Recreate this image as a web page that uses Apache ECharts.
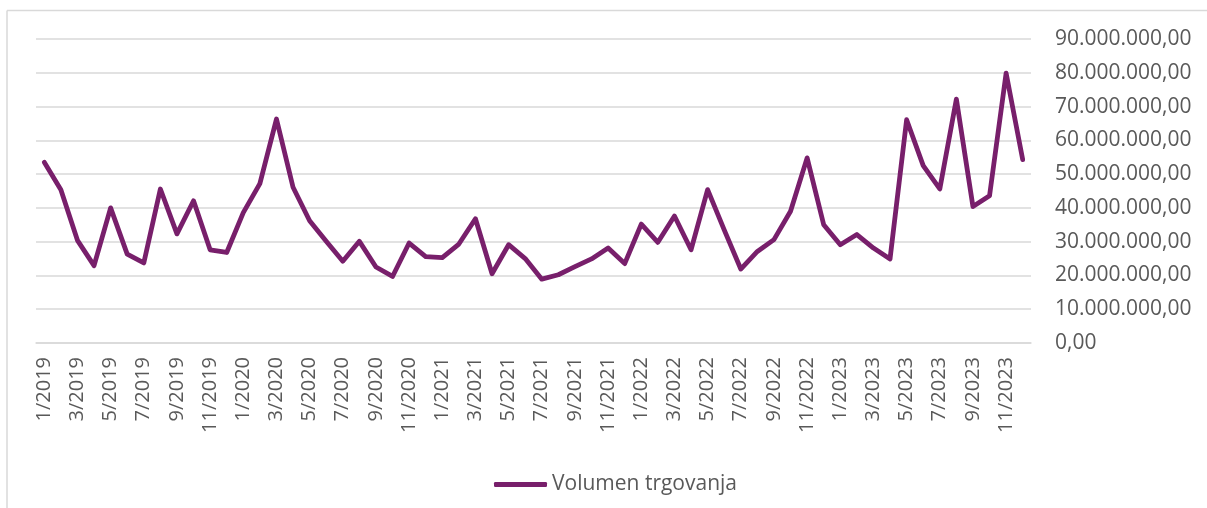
<!DOCTYPE html>
<html>
<head>
<meta charset="utf-8">
<script src="https://cdn.jsdelivr.net/npm/echarts@6/dist/echarts.min.js"></script>
<style>
  html, body { margin: 0; padding: 0; background: #fff; }
  #chart { width: 1207px; height: 508px; }
</style>
</head>
<body>
<div id="chart"></div>
<script>
// monthly categories 1/2019 .. 12/2023
const years = [2019, 2020, 2021, 2022, 2023]
const months = [1, 2, 3, 4, 5, 6, 7, 8, 9, 10, 11, 12]
const categories = []
years.forEach(y => months.forEach(m => categories.push(m + '/' + y)))

// volume values
const volumen = [
  53500000, 45400000, 30400000, 22900000, 40000000, 26300000, 23700000, 45600000, 32300000, 42100000, 27600000, 26800000,
  38600000, 47200000, 66300000, 46100000, 36200000, 30100000, 24200000, 30100000, 22500000, 19700000, 29600000, 25600000,
  25300000, 29300000, 36800000, 20500000, 29100000, 25000000, 18900000, 20200000, 22600000, 24900000, 28100000, 23500000,
  35200000, 29800000, 37600000, 27600000, 45400000, 33500000, 21900000, 27100000, 30600000, 39000000, 54800000, 35000000,
  29100000, 32100000, 28100000, 24900000, 66100000, 52500000, 45600000, 72200000, 40400000, 43600000, 79900000, 54300000
]

const yMin = 0
const yMax = 90000000
const yStep = 10000000

const lineColor = '#781F6B'
const gridColor = '#D9D9D9'
const textColor = '#595959'

function fmt(v) {
  const parts = Math.round(v).toString().replace(/\B(?=(\d{3})+(?!\d))/g, '.')
  return parts + ',00'
}

const chart = echarts.init(document.getElementById('chart'))

chart.setOption({
  animation: false,
  textStyle: { fontFamily: 'Open Sans' },
  graphic: [
    { type: 'line', shape: { x1: 7, y1: 10.5, x2: 1207, y2: 10.5 }, style: { stroke: gridColor, lineWidth: 1.5 } },
    { type: 'line', shape: { x1: 7, y1: 10.5, x2: 7, y2: 508 }, style: { stroke: gridColor, lineWidth: 1.5 } }
  ],
  grid: {
    left: 36,
    right: 176,
    top: 39,
    bottom: 165
  },
  legend: {
    data: ['Volumen trgovanja'],
    left: 489,
    top: 469,
    icon: 'roundRect',
    itemWidth: 53,
    itemHeight: 5,
    itemGap: 6,
    textStyle: { color: textColor, fontSize: 21, fontFamily: 'Open Sans' }
  },
  xAxis: {
    type: 'category',
    data: categories,
    boundaryGap: true,
    axisLine: { show: true, lineStyle: { color: gridColor, width: 1.5 } },
    axisTick: { show: false },
    axisLabel: {
      interval: 1,
      rotate: 90,
      margin: 14,
      color: textColor,
      fontSize: 20,
      fontFamily: 'Open Sans'
    }
  },
  yAxis: {
    type: 'value',
    position: 'right',
    min: yMin,
    max: yMax,
    interval: yStep,
    axisLine: { show: false },
    axisTick: { show: false },
    splitLine: { lineStyle: { color: gridColor, width: 1.5 } },
    axisLabel: {
      margin: 24,
      color: textColor,
      fontSize: 21,
      fontFamily: 'Open Sans',
      formatter: fmt
    }
  },
  series: [
    {
      name: 'Volumen trgovanja',
      type: 'line',
      data: volumen,
      symbol: 'none',
      itemStyle: { color: lineColor },
      lineStyle: { color: lineColor, width: 4.8, cap: 'round', join: 'round' }
    }
  ]
})
</script>
</body>
</html>
